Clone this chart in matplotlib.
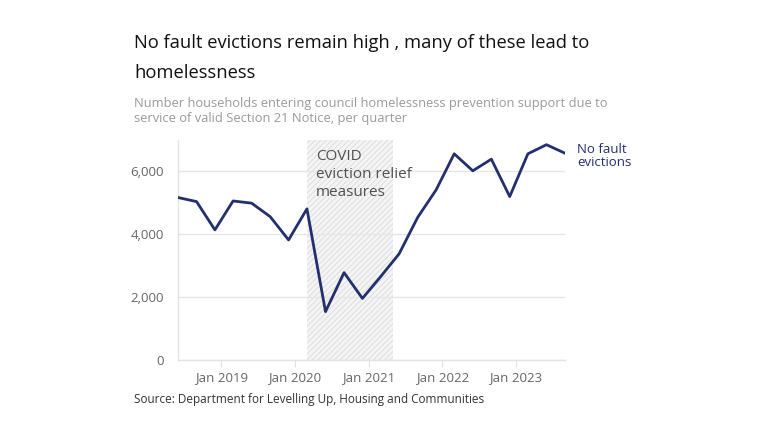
import pandas as pd
import matplotlib.pyplot as plt
import matplotlib.dates as mdates

plt.rcParams['font.family'] = ['Open Sans', 'DejaVu Sans']
plt.rcParams['hatch.linewidth'] = 0.5

# Data (quarterly)
quarters = pd.date_range('2018-06-01', periods=22, freq='3MS')
evictions = [5170, 5040, 4140, 5060, 4990, 4560, 3820, 4810, 1540, 2780, 1960,
             2650, 3380, 4540, 5410, 6560, 6020, 6390, 5200, 6560, 6850, 6580]
covid_start = pd.Timestamp('2020-03-01')
covid_end = pd.Timestamp('2021-05-01')
tick_dates = pd.to_datetime(['2019-01-01', '2020-01-01', '2021-01-01', '2022-01-01', '2023-01-01'])
tick_labels = ['Jan 2019', 'Jan 2020', 'Jan 2021', 'Jan 2022', 'Jan 2023']
y_ticks = [0, 2000, 4000, 6000]

W, H = 768, 432
NAVY = '#232f6e'

fig = plt.figure(figsize=(W / 100, H / 100), dpi=100)
ax = fig.add_axes([178 / W, 1 - 360 / H, (565 - 178) / W, (360 - 140) / H])

ax.axvspan(covid_start, covid_end, facecolor='#f4f4f4', edgecolor='#d6d6d6',
           hatch='//////', linewidth=0, zorder=0)
ax.plot(quarters, evictions, color=NAVY, linewidth=2, zorder=3)

ax.set_xlim(quarters[0], quarters[-1])
ax.set_ylim(0, 7000)
ax.set_yticks(y_ticks)
ax.set_yticklabels([f'{v:,}' for v in y_ticks])
ax.set_xticks(tick_dates)
ax.set_xticklabels(tick_labels)
ax.grid(axis='y', color='#e6e6e6', linewidth=1, zorder=1)

for side in ['top', 'right']:
    ax.spines[side].set_visible(False)
for side in ['left', 'bottom']:
    ax.spines[side].set_color('#e3e3e3')
    ax.spines[side].set_linewidth(1)
ax.tick_params(axis='y', length=0, pad=10, labelsize=9.5, labelcolor='#666666')
ax.tick_params(axis='x', length=5, color='#e3e3e3', pad=3, labelsize=9.5,
               labelcolor='#666666')

ax.text(covid_start + pd.Timedelta(days=45), 6700, 'COVID\neviction relief\nmeasures',
        fontsize=11, color='#505050', va='top', ha='left', linespacing=1.25)

def ftext(x, y, s, **kw):
    fig.text(x / W, 1 - y / H, s, **kw)

ftext(134, 48, 'No fault evictions remain high , many of these lead to',
      fontsize=13.2, color='#111111', fontweight='medium', va='baseline')
ftext(134, 78, 'homelessness', fontsize=13.2, color='#111111', fontweight='medium',
      va='baseline')
ftext(134, 107, 'Number households entering council homelessness prevention support due to',
      fontsize=9.25, color='#9a9a9a', va='baseline')
ftext(134, 122, 'service of valid Section 21 Notice, per quarter',
      fontsize=9.25, color='#9a9a9a', va='baseline')
ftext(134, 403, 'Source: Department for Levelling Up, Housing and Communities',
      fontsize=8.5, color='#333333', va='baseline')
ftext(577, 143, 'No fault\nevictions', fontsize=9.5, color=NAVY, va='top',
      linespacing=0.95)

fig.savefig('out.png', dpi=100)
